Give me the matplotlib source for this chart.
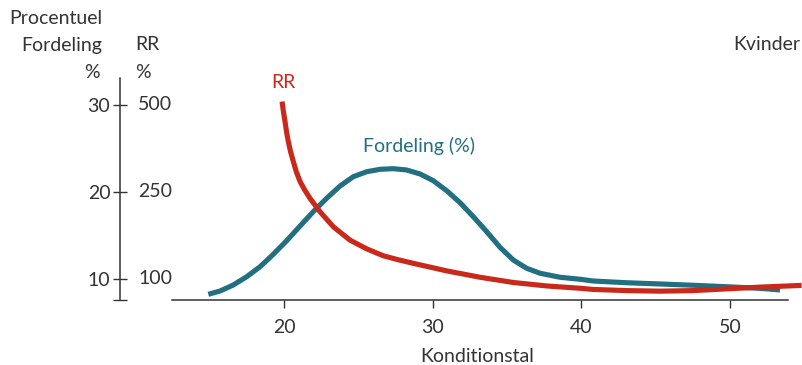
import numpy as np
import matplotlib
matplotlib.use("Agg")
import matplotlib.pyplot as plt
import matplotlib.transforms as mtransforms

plt.rcParams['font.family'] = ['Lato', 'DejaVu Sans']

# ---- data ----
fordeling_x = [14.91, 15.70, 16.59, 17.49, 18.39, 19.28, 20.18, 21.08, 21.97, 22.87,
               23.77, 24.66, 25.56, 26.46, 27.35, 28.25, 29.15, 30.04, 30.94, 31.84,
               32.73, 33.63, 34.53, 35.42, 36.32, 37.22, 38.56, 39.91, 40.80, 43.05,
               45.29, 47.52, 49.77, 52.01, 53.36]
fordeling_pct = [8.24, 8.62, 9.31, 10.26, 11.41, 12.84, 14.40, 16.09, 17.74, 19.28,
                 20.69, 21.76, 22.33, 22.61, 22.68, 22.53, 22.07, 21.30, 20.15, 18.77,
                 17.16, 15.44, 13.64, 12.18, 11.23, 10.66, 10.20, 9.97, 9.77, 9.57,
                 9.43, 9.28, 9.11, 8.93, 8.74]

rr_x = [19.87, 19.96, 20.07, 20.17, 20.29, 20.44, 20.63, 20.83, 21.08, 21.39,
        21.75, 22.42, 23.32, 24.44, 25.56, 26.68, 27.71, 28.70, 30.94, 33.18,
        35.42, 37.67, 39.91, 40.80, 43.05, 45.29, 47.52, 49.77, 52.01, 54.81]
rr_values = [510, 481, 452, 423, 395, 366, 337, 308, 280, 256,
             239, 216, 190, 167, 152, 140, 133, 127, 114, 103,
             94, 88, 84, 82, 80, 79, 80, 83, 86, 89]

x_ticks = [20, 30, 40, 50]
pct_ticks = [10, 20, 30]
rr_tick_labels = ['100', '250', '500']
rr_tick_values = [100, 250, 500]

# RR axis is drawn against the percent scale (100 -> 10, 250 -> 20, 500 -> 30)
rr_knots = [0, 100, 250, 500, 1000]
pos_knots = [10 - 100 / 15, 10, 20, 30, 30 + 500 / 25]


def rr_to_pos(v):
    return np.interp(v, rr_knots, pos_knots)


W, H = 802, 365
fig = plt.figure(figsize=(W / 100, H / 100), dpi=100)
fig.patch.set_facecolor('white')


def fx(px):
    return px / W


def fy(py):
    return 1 - py / H


ax_left, ax_right, ax_top, ax_bottom = 172, 802, 78, 300
ax = fig.add_axes([fx(ax_left), fy(ax_bottom), (ax_right - ax_left) / W, (ax_bottom - ax_top) / H])


def px2x(px):
    return 20 + (px - 284) / 14.87


def py2u(py):
    return 10 + (279 - py) / 8.7


xmin, xmax = px2x(ax_left), px2x(ax_right)
ymin, ymax = py2u(ax_bottom), py2u(ax_top)
ax.set_xlim(xmin, xmax)
ax.set_ylim(ymin, ymax)

TEAL = '#226f82'
RED = '#c8291b'
INK = '#333333'

ax.plot(fordeling_x, fordeling_pct, color=TEAL, lw=3.7, solid_capstyle='butt',
        solid_joinstyle='round', clip_on=False, zorder=3)
ax.plot(rr_x, rr_to_pos(np.array(rr_values)), color=RED, lw=3.7, solid_capstyle='butt',
        solid_joinstyle='round', clip_on=False, zorder=4)

for s in ['top', 'right']:
    ax.spines[s].set_visible(False)
ax.spines['bottom'].set_bounds(xmin, px2x(788))
ax.spines['bottom'].set_color(INK)
ax.spines['bottom'].set_linewidth(1.1)

ax.spines['left'].set_position(('axes', (120 - ax_left) / (ax_right - ax_left)))
ax.spines['left'].set_color(INK)
ax.spines['left'].set_linewidth(1.1)

fs = 14

ax.set_xticks(x_ticks)
ax.set_xticklabels([str(t) for t in x_ticks])
ax.tick_params(axis='x', direction='out', length=6, width=1, color=INK,
               labelcolor=INK, labelsize=fs, pad=8)

ax.set_yticks([ymin] + pct_ticks)
ax.set_yticklabels([''] + [str(t) for t in pct_ticks])
ax.tick_params(axis='y', direction='inout', length=10, width=1, color=INK,
               labelcolor=INK, labelsize=fs, pad=2)

blend = mtransforms.blended_transform_factory(fig.transFigure, ax.transData)
for lab, v in zip(rr_tick_labels, rr_tick_values):
    ax.text(fx(138), rr_to_pos(v), lab, transform=blend, ha='left', va='center',
            fontsize=fs, color=INK)

fig.text(fx(102), fy(18), 'Procentuel', ha='right', va='center', fontsize=fs, color=INK)
fig.text(fx(102), fy(45), 'Fordeling', ha='right', va='center', fontsize=fs, color=INK)
fig.text(fx(100), fy(72), '%', ha='right', va='center', fontsize=fs, color=INK)
fig.text(fx(135), fy(45), 'RR', ha='left', va='center', fontsize=fs, color=INK)
fig.text(fx(135), fy(72), '%', ha='left', va='center', fontsize=fs, color=INK)
fig.text(fx(800), fy(45), 'Kvinder', ha='right', va='center', fontsize=fs, color=INK)

fig.text(fx(283), fy(83), 'RR', ha='center', va='center', fontsize=fs, color=RED)
fig.text(fx(419), fy(146), 'Fordeling (%)', ha='center', va='center', fontsize=fs, color=TEAL)
fig.text(fx(477), fy(357), 'Konditionstal', ha='center', va='center', fontsize=fs, color=INK)

fig.savefig('out.png', dpi=100, facecolor='white')
